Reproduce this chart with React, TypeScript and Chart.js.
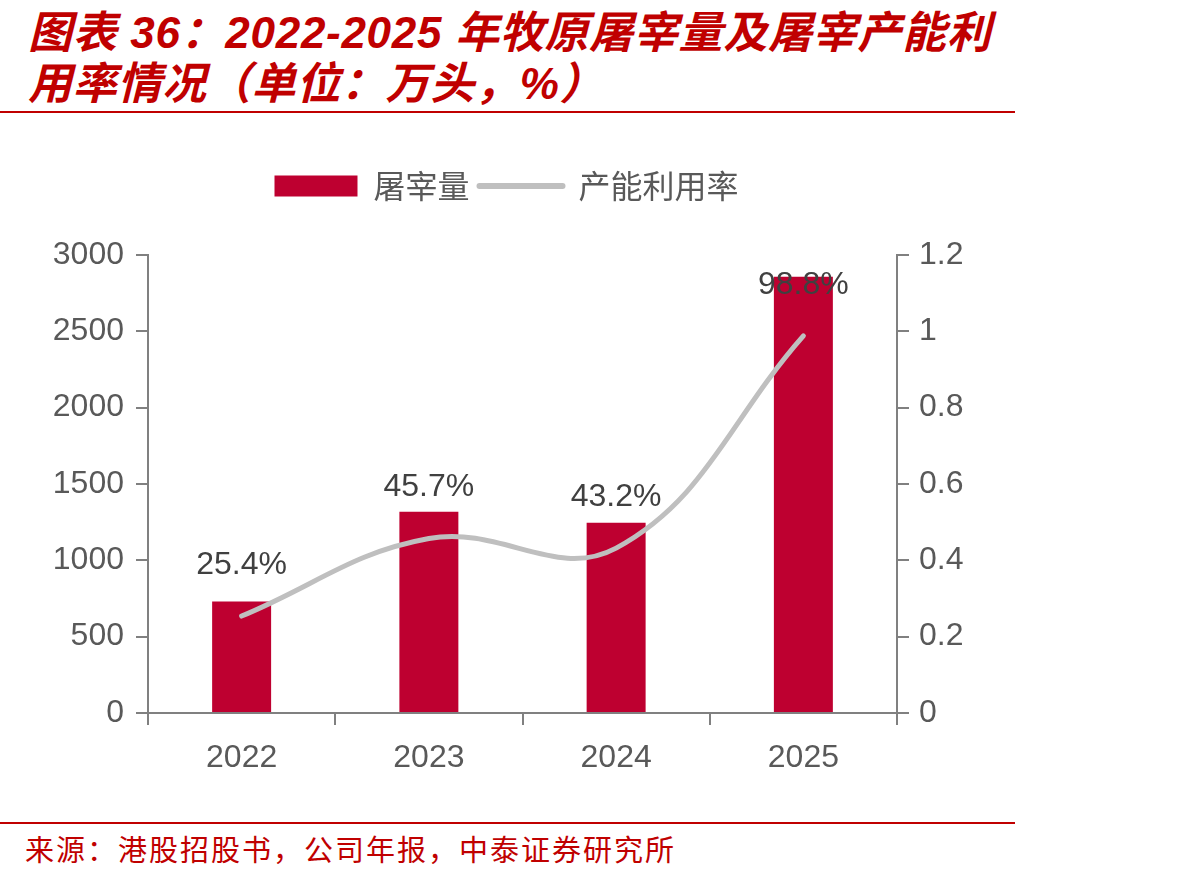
import React, { useEffect, useRef } from "react";
import { Chart, registerables } from "chart.js";

Chart.register(...registerables);

const categories = ["2022", "2023", "2024", "2025"];
const slaughterVolume = [730, 1318, 1246, 2858];
const utilizationRate = [0.254, 0.457, 0.432, 0.988];
const rateLabels = ["25.4%", "45.7%", "43.2%", "98.8%"];
const seriesNames = ["屠宰量", "产能利用率"];
const titleLines = ["图表 36：2022-2025 年牧原屠宰量及屠宰产能利", "用率情况（单位：万头，%）"];
const sourceText = "来源：港股招股书，公司年报，中泰证券研究所";

const BAR_COLOR = "#BE0030";
const LINE_COLOR = "#BFBFBF";
const AXIS_COLOR = "#808080";
const TICK_TEXT = "#595959";
const RED = "#C00000";
const FONT = "'Liberation Sans', Arial, 'Noto Sans CJK SC', sans-serif";

const legendSpacing = {
  id: "legendSpacing",
  beforeInit(chart: any) {
    const legend = chart.legend;
    if (!legend) return;
    const orig = legend.fit;
    legend.fit = function () {
      orig.call(this);
      this.height += 43;
    };
  },
};

const rateLabelPlugin = {
  id: "rateLabels",
  afterDatasetsDraw(chart: any) {
    const meta = chart.getDatasetMeta(1);
    const ctx = chart.ctx;
    ctx.save();
    ctx.font = `32px ${FONT}`;
    ctx.fillStyle = "#404040";
    ctx.textAlign = "center";
    ctx.textBaseline = "middle";
    meta.data.forEach((pt: any, i: number) => {
      ctx.fillText(rateLabels[i], pt.x, pt.y - 51);
    });
    ctx.restore();
  },
};

export default function App() {
  const ref = useRef<HTMLCanvasElement>(null);
  useEffect(() => {
    if (!ref.current) return;
    const chart = new Chart(ref.current, {
      type: "bar",
      data: {
        labels: categories,
        datasets: [
          {
            type: "bar",
            label: seriesNames[0],
            data: slaughterVolume,
            backgroundColor: BAR_COLOR,
            yAxisID: "y",
            order: 1,
            categoryPercentage: 1,
            barPercentage: 0.315,
          } as any,
          {
            type: "line",
            label: seriesNames[1],
            data: utilizationRate,
            borderColor: LINE_COLOR,
            backgroundColor: LINE_COLOR,
            borderWidth: 5,
            borderCapStyle: "round",
            pointRadius: 0,
            tension: 0.4,
            yAxisID: "y1",
            order: 0,
          } as any,
        ],
      },
      options: {
        responsive: false,
        animation: false,
        devicePixelRatio: 1,
        layout: { padding: { top: 30, left: 0, right: 7, bottom: 0 } },
        plugins: {
          tooltip: { enabled: false },
          legend: {
            position: "top",
            labels: {
              usePointStyle: true,
              pointStyleWidth: 83,
              boxHeight: 21,
              padding: 10,
              color: "#595959",
              font: { size: 32, family: "'Noto Sans CJK SC', sans-serif" },
              generateLabels: () => [
                {
                  text: seriesNames[0],
                  fillStyle: BAR_COLOR,
                  strokeStyle: BAR_COLOR,
                  lineWidth: 0,
                  pointStyle: "rect",
                  datasetIndex: 0,
                  hidden: false,
                  fontColor: "#595959",
                },
                {
                  text: seriesNames[1],
                  fillStyle: LINE_COLOR,
                  strokeStyle: LINE_COLOR,
                  lineWidth: 6,
                  lineCap: "round",
                  pointStyle: "line",
                  datasetIndex: 1,
                  hidden: false,
                  fontColor: "#595959",
                },
              ] as any,
            },
          },
        },
        scales: {
          x: {
            type: "category",
            offset: true,
            grid: {
              display: true,
              offset: true,
              drawOnChartArea: false,
              drawTicks: true,
              tickLength: 12,
              color: AXIS_COLOR,
              lineWidth: 2,
            },
            border: { display: true, color: AXIS_COLOR, width: 2 },
            ticks: {
              color: TICK_TEXT,
              font: { size: 32, family: FONT },
              padding: 14,
              maxRotation: 0,
            },
            afterFit: (s: any) => {
              s.height = 97;
            },
          },
          y: {
            type: "linear",
            position: "left",
            min: 0,
            max: 3000,
            ticks: {
              stepSize: 500,
              color: TICK_TEXT,
              font: { size: 32, family: FONT },
              padding: 12,
              callback: (v: any) => String(Math.round(Number(v))),
            },
            grid: {
              display: true,
              drawOnChartArea: false,
              drawTicks: true,
              tickLength: 12,
              color: AXIS_COLOR,
              lineWidth: 2,
            },
            border: { display: true, color: AXIS_COLOR, width: 2 },
            afterFit: (s: any) => {
              s.width = 148;
            },
          },
          y1: {
            type: "linear",
            position: "right",
            min: 0,
            max: 1.2,
            ticks: {
              stepSize: 0.2,
              color: TICK_TEXT,
              font: { size: 32, family: FONT },
              padding: 10,
              callback: (v: any) => String(+Number(v).toFixed(1)),
            },
            grid: {
              display: true,
              drawOnChartArea: false,
              drawTicks: true,
              tickLength: 12,
              color: AXIS_COLOR,
              lineWidth: 2,
            },
            border: { display: true, color: AXIS_COLOR, width: 2 },
            afterFit: (s: any) => {
              s.width = 116;
            },
          },
        },
      },
      plugins: [legendSpacing, rateLabelPlugin],
    });
    return () => chart.destroy();
  }, []);

  return (
    <div style={{ position: "fixed", left: 0, top: 0, width: 1192, height: 876, background: "#fff", overflow: "hidden" }}>
      <div
        style={{
          position: "absolute",
          left: 28,
          top: 7,
          color: RED,
          fontFamily: "'Liberation Sans', 'Noto Sans CJK SC', sans-serif",
          fontWeight: "bold",
          fontStyle: "italic",
          fontSize: 44,
          lineHeight: "51px",
          letterSpacing: 0.7,
          whiteSpace: "nowrap",
        }}
      >
        <div>{titleLines[0]}</div>
        <div>{titleLines[1]}</div>
      </div>
      <div style={{ position: "absolute", left: 0, top: 111, width: 1015, height: 2, background: RED }} />
      <canvas ref={ref} width={1020} height={680} style={{ position: "absolute", left: 0, top: 130, width: 1020, height: 680 }} />
      <div style={{ position: "absolute", left: 0, top: 822, width: 1015, height: 2, background: RED }} />
      <div
        style={{
          position: "absolute",
          left: 25,
          top: 829,
          color: RED,
          fontFamily: "'Noto Sans CJK SC', sans-serif",
          fontSize: 29,
          lineHeight: "38px",
          letterSpacing: 2,
          whiteSpace: "nowrap",
        }}
      >
        {sourceText}
      </div>
    </div>
  );
}
